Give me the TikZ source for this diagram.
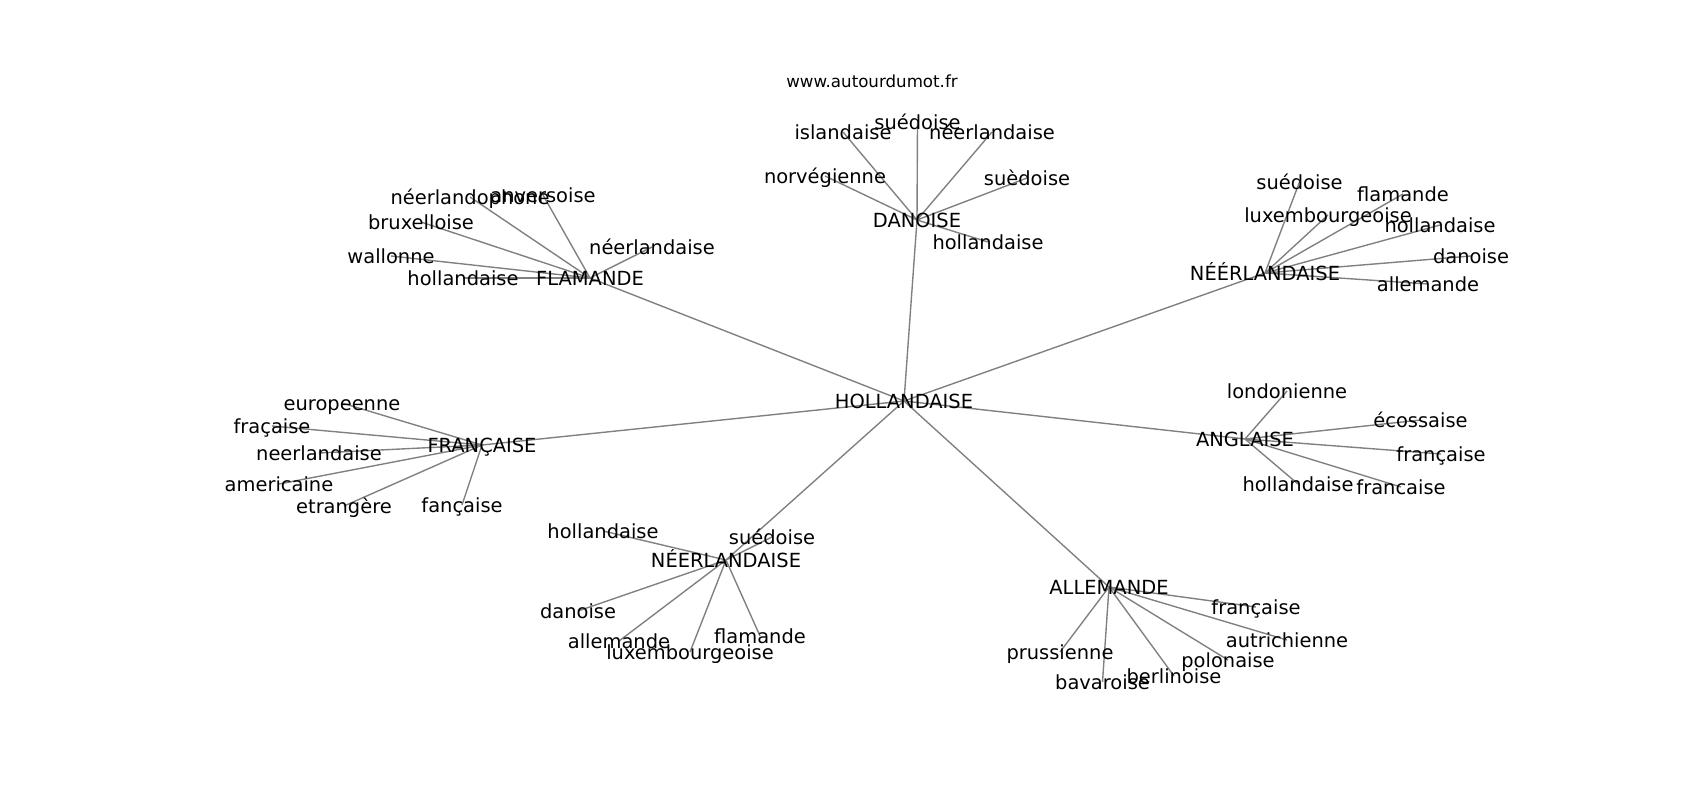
\documentclass[tikz,border=0pt]{standalone}
\usepackage{fontspec}
\setmainfont{DejaVu Sans}
\usetikzlibrary{backgrounds}

\tikzset{
  word/.style={font=\fontsize{14}{16}\selectfont, inner sep=0pt, text height=13.4pt, text depth=2.9pt},
  site/.style={font=\fontsize{12}{14}\selectfont, inner sep=0pt, text height=9.1pt, text depth=2.5pt},
  link/.style={draw=gray, line width=1pt},
}

\begin{document}
\begin{tikzpicture}[x=0.72pt, y=-0.72pt]
\useasboundingbox (0,0) rectangle (1700,800);

% Site name
\node[site] (title) at (872,83) {www.autourdumot.fr};

% Central word and its seven neighbours
\node[word] (hub) at (904,401) {HOLLANDAISE};
\node[word] (dan) at (917,220) {DANOISE};
\node[word] (fla) at (590,278) {FLAMANDE};
\node[word] (neer) at (1265,273) {NÉÉRLANDAISE};
\node[word] (fra) at (482,445) {FRANÇAISE};
\node[word] (ang) at (1245,439) {ANGLAISE};
\node[word] (ned) at (726,560) {NÉERLANDAISE};
\node[word] (all) at (1109,587) {ALLEMANDE};

% Leaves
\foreach \nm/\x/\y/\lbl in {
    d1/843/132/islandaise, d2/917.5/122/suédoise, d3/992/132/néerlandaise,
    d4/825/176/norvégienne, d5/1027/178/suèdoise, d6/988/242/hollandaise,
    f1/470/197/néerlandophone, f2/543/195/anversoise, f3/421/222/bruxelloise,
    f4/652/247/néerlandaise, f5/391/256/wallonne, f6/463/278/hollandaise,
    n1/1299.5/182/suédoise, n2/1403/194/flamande, n3/1328/215/luxembourgeoise,
    n4/1440/225/hollandaise, n5/1471/256/danoise, n6/1428/284/allemande,
    r1/342/403/europeenne, r2/272/426/fraçaise, r3/319/453/neerlandaise,
    r4/279/484/americaine, r5/344/506/etrangère, r6/462/505/fançaise,
    a1/1287/391/londonienne, a2/1420.5/420/écossaise, a3/1441/454/française,
    a4/1298/484/hollandaise, a5/1401/487/francaise,
    e1/603/531/hollandaise, e2/772/537/suédoise, e3/578/611/danoise,
    e4/619/641/allemande, e5/690/652/luxembourgeoise, e6/760/636/flamande,
    g1/1256/607/française, g2/1287/640/autrichienne, g3/1060/652/prussienne,
    g4/1228/660/polonaise, g5/1102.5/682/bavaroise, g6/1174/676/berlinoise}
  \node[word] (\nm) at (\x,\y) {\lbl};

% Links under the words
\begin{scope}[on background layer]
\foreach \b in {dan,fla,neer,fra,ang,ned,all}
  \draw[link] (hub.center) -- (\b.center);
\foreach \i in {1,...,6} {
  \draw[link] (dan.center) -- (d\i.center);
  \draw[link] (fla.center) -- (f\i.center);
  \draw[link] (neer.center) -- (n\i.center);
  \draw[link] (fra.center) -- (r\i.center);
  \draw[link] (ned.center) -- (e\i.center);
  \draw[link] (all.center) -- (g\i.center);
}
\foreach \i in {1,...,5}
  \draw[link] (ang.center) -- (a\i.center);
\end{scope}
\end{tikzpicture}
\end{document}
